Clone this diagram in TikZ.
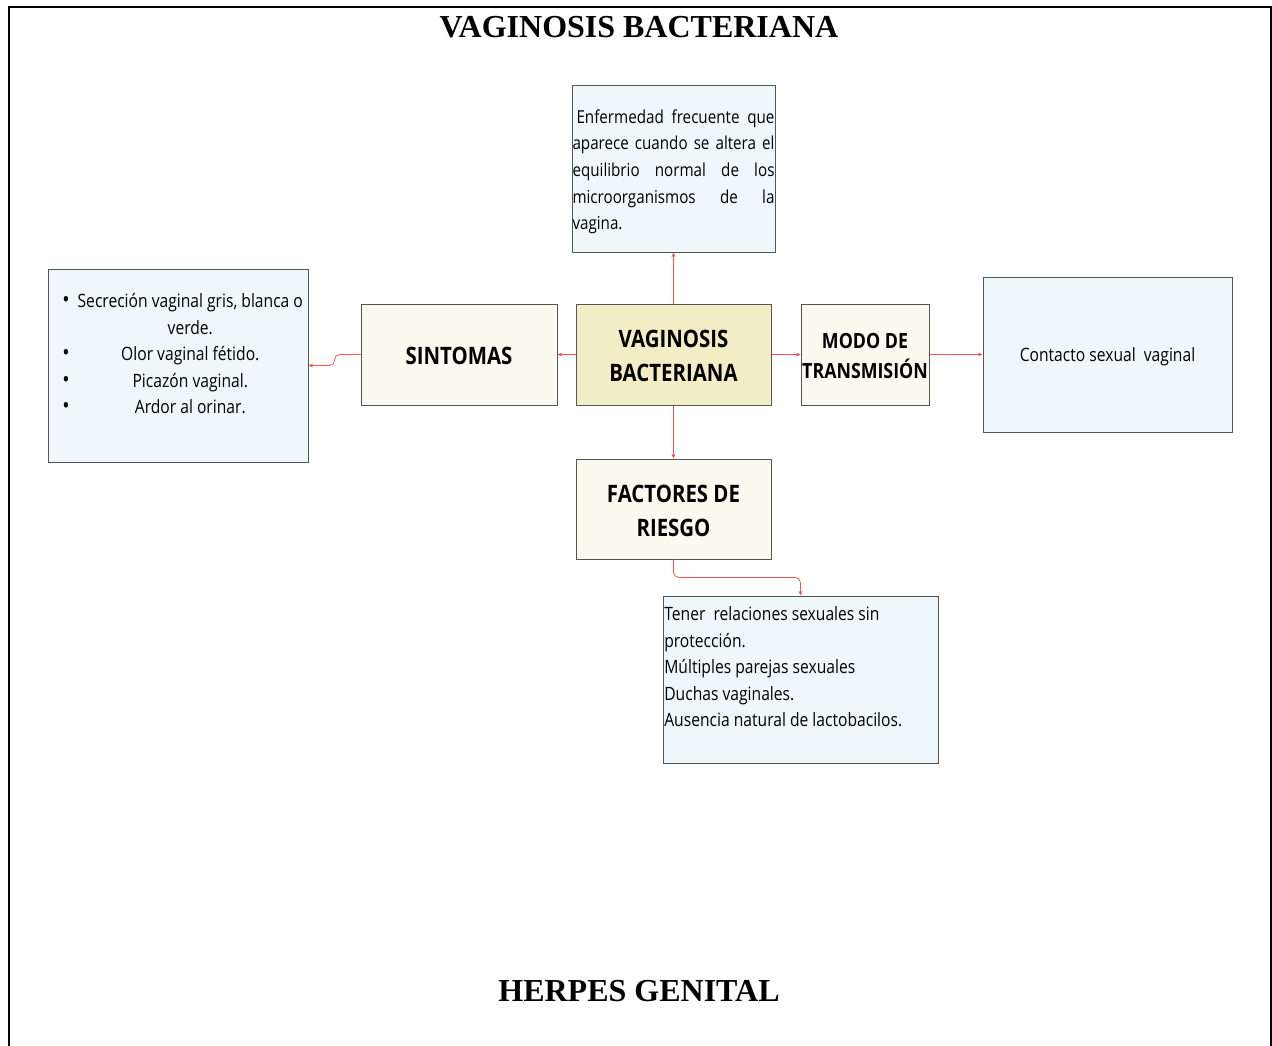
\documentclass[tikz,border=0pt]{standalone}
\usepackage{fontspec}
\setmainfont{Liberation Serif}
\newfontfamily\cajafont[FakeStretch=0.85]{Open Sans}
\usetikzlibrary{arrows.meta}
\definecolor{celeste}{HTML}{EEF8FB}
\definecolor{crema}{HTML}{FCFAEE}
\definecolor{caqui}{HTML}{F2EDC4}
\definecolor{flecha}{HTML}{FF5050}
\definecolor{borde}{HTML}{555555}
% caja: nombre, x1, y1, x2, y2, relleno, texto (pixeles)
\newcommand{\caja}[7]{
\node[draw=borde, fill=#6, inner sep=0pt, minimum width={(#4-#2)*0.75pt},
  minimum height={(#5-#3)*0.75pt}] (#1) at ({(#2+#4)/2},{(#3+#5)/2}) {#7};}
\newcommand{\txt}{\cajafont\fontsize{13.8}{19.9}\selectfont}
\newcommand{\gruesa}{\cajafont\bfseries\fontsize{18}{25.5}\selectfont}
\newcommand{\vineta}{{\fontsize{17}{17}\selectfont\textbullet}}
\newcommand{\baja}[2]{\raisebox{-#1}[\height][\depth]{#2}}

\begin{document}
\begin{tikzpicture}[x=0.75pt, y=-0.75pt, line width=0.75pt,
  conector/.style={draw=flecha, line width=0.6pt, -{Stealth[length=3.5pt,width=3pt]}}]
\useasboundingbox (0,0) rectangle (1272,1046);
\draw[line width=1.5pt] (9,1046) -- (9,7) -- (1271,7) -- (1271,1046);

\node[font=\bfseries\fontsize{24}{26}\selectfont] (titulo) at (639,27) {VAGINOSIS BACTERIANA};
\node[font=\bfseries\fontsize{24}{26}\selectfont] (herpes) at (639,991) {HERPES GENITAL};

\caja{def}{572}{85}{775}{252}{celeste}{}
\node[text width=151.5pt, align=justify, inner sep=0pt,
  font=\cajafont\fontsize{13.4}{19.9}\selectfont] (deftxt) at ([yshift=-2.5pt]def.center)
  {\hspace{3pt}Enfermedad frecuente que\linebreak aparece cuando se altera el\linebreak
   equilibrio normal de los\linebreak microorganismos de la\linebreak vagina.};

\caja{lista}{48}{269}{308}{462}{celeste}{}
\node[font=\txt, inner sep=0pt] (listatxt) at ([xshift=3.5pt,yshift=7.5pt]lista.center)
  {\begin{tabular}{@{}l@{\hspace{6pt}}c@{}}
   \vineta & Secreción vaginal gris, blanca o\\
    & verde.\\
   \vineta & Olor vaginal fétido.\\
   \vineta & Picazón vaginal.\\
   \vineta & Ardor al orinar.
   \end{tabular}};

\caja{sint}{361}{304}{557}{405}{crema}{\gruesa\baja{1pt}{SINTOMAS}}
\caja{vb}{576}{304}{771}{405}{caqui}{\gruesa\baja{2.5pt}{\begin{tabular}{c}VAGINOSIS\\BACTERIANA\end{tabular}}}
\caja{modo}{801}{304}{929}{405}{crema}{\cajafont\bfseries\fontsize{15.7}{22.5}\selectfont
  \baja{2.5pt}{\begin{tabular}{@{}c@{}}MODO DE\\TRANSMISIÓN\end{tabular}}}
\caja{contacto}{983}{277}{1232}{432}{celeste}{\txt\baja{1.5pt}{Contacto sexual\ \ vaginal}}
\caja{fact}{576}{459}{771}{559}{crema}{\gruesa\baja{2.5pt}{\begin{tabular}{c}FACTORES DE\\RIESGO\end{tabular}}}

\caja{tener}{663}{596}{938}{763}{celeste}{}
\node[font=\txt, inner sep=0pt, anchor=west, align=left] (tenertxt) at ([xshift=1pt,yshift=9.5pt]tener.west)
  {Tener\ \ relaciones sexuales sin\\protección.\\Múltiples parejas sexuales\\Duchas vaginales.\\Ausencia natural de lactobacilos.};

\draw[conector] (vb.north) -- (def.south);
\draw[conector] (vb.west) -- (sint.east);
\draw[conector, rounded corners=4pt] (sint.west) -- ++(-26,0) |- (lista.east);
\draw[conector] (vb.east) -- (modo.west);
\draw[conector] (modo.east) -- (contacto.west);
\draw[conector] (vb.south) -- (fact.north);
\draw[conector, rounded corners=4pt] (fact.south) -- ++(0,18) -| (tener.north);
\end{tikzpicture}
\end{document}
